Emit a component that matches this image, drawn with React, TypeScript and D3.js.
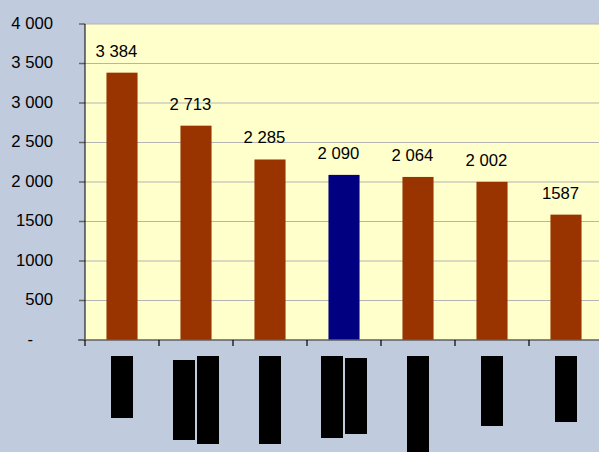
import React, { useEffect, useRef } from "react";
import * as d3 from "d3";

// chart values
const categories = ["c1", "c2", "c3", "c4", "c5", "c6", "c7"];
const values = [3384, 2713, 2285, 2090, 2064, 2002, 1587];
const valueLabels = ["3 384", "2 713", "2 285", "2 090", "2 064", "2 002", "1587"];
const highlight = "c4";
const yTicks = [0, 500, 1000, 1500, 2000, 2500, 3000, 3500, 4000];
const yTickLabels = ["-", "500", "1000", "1500", "2 000", "2 500", "3 000", "3 500", "4 000"];
// category names are blacked out in the reference: one entry per text line, its length
const redactedLines = [[62], [84, 88], [88], [82, 78], [100], [70], [66]];
const redactedInset = [[0], [4, 0], [0], [0, 2], [0], [0], [0]];

const W = 599;
const H = 452;
const FONT = "'Liberation Sans', Arial, sans-serif";

export default function App() {
  const svgRef = useRef<SVGSVGElement>(null);

  useEffect(() => {
    const svg = d3.select(svgRef.current);
    svg.selectAll("*").remove();

    const left = 85;
    const top = 24;
    const bottom = 340;
    const right = 603;

    const x = d3
      .scaleBand()
      .domain(categories)
      .range([left, right])
      .paddingInner(0.58)
      .paddingOuter(0.29);
    const step = x.step();
    const y = d3.scaleLinear().domain([0, 4000]).range([bottom, top]);

    svg.append("rect").attr("width", W).attr("height", H).attr("fill", "#C0CBDD");
    svg
      .append("rect")
      .attr("x", left)
      .attr("y", top)
      .attr("width", right - left)
      .attr("height", bottom - top)
      .attr("fill", "#FFFFCC");

    // gridlines
    svg
      .selectAll(".grid")
      .data(yTicks.filter((t) => t > 0))
      .enter()
      .append("line")
      .attr("x1", left)
      .attr("x2", right)
      .attr("y1", (d) => y(d))
      .attr("y2", (d) => y(d))
      .attr("stroke", "#B4B4B4")
      .attr("stroke-width", 1.2);

    // y ticks + labels
    svg
      .selectAll(".ytick")
      .data(yTicks)
      .enter()
      .append("line")
      .attr("x1", left - 6)
      .attr("x2", left)
      .attr("y1", (d) => y(d))
      .attr("y2", (d) => y(d))
      .attr("stroke", "#666")
      .attr("stroke-width", 1.5);

    svg
      .selectAll(".ylabel")
      .data(yTicks)
      .enter()
      .append("text")
      .attr("x", 53)
      .attr("dx", (d) => (d === 0 ? -20 : 0))
      .attr("y", (d) => y(d) + 4.5)
      .attr("text-anchor", "end")
      .attr("font-family", FONT)
      .attr("font-size", 16.7)
      .attr("fill", "#000")
      .text((d, i) => yTickLabels[i]);

    // bars
    svg
      .selectAll(".bar")
      .data(values)
      .enter()
      .append("rect")
      .attr("x", (d, i) => x(categories[i])!)
      .attr("y", (d) => y(d))
      .attr("width", x.bandwidth())
      .attr("height", (d) => y(0) - y(d))
      .attr("fill", (d, i) => (categories[i] === highlight ? "#000080" : "#993300"));

    // value labels
    svg
      .selectAll(".vlabel")
      .data(values)
      .enter()
      .append("text")
      .attr("x", (d, i) => x(categories[i])! + x.bandwidth() / 2 - 5.5)
      .attr("y", (d) => y(d) - 16)
      .attr("text-anchor", "middle")
      .attr("font-family", FONT)
      .attr("font-size", 16.7)
      .attr("fill", "#000")
      .text((d, i) => valueLabels[i]);

    // axes
    svg
      .append("line")
      .attr("x1", left)
      .attr("x2", left)
      .attr("y1", top)
      .attr("y2", bottom)
      .attr("stroke", "#000")
      .attr("stroke-width", 1);
    svg
      .append("line")
      .attr("x1", left - 7)
      .attr("x2", W)
      .attr("y1", bottom)
      .attr("y2", bottom)
      .attr("stroke", "#5f5f5f")
      .attr("stroke-width", 1.6);
    svg
      .selectAll(".xtick")
      .data(categories)
      .enter()
      .append("line")
      .attr("x1", (d) => x(d)! - (step - x.bandwidth()) / 2)
      .attr("x2", (d) => x(d)! - (step - x.bandwidth()) / 2)
      .attr("y1", bottom)
      .attr("y2", bottom + 6)
      .attr("stroke", "#000")
      .attr("stroke-width", 1.2);

    // blacked-out category labels
    categories.forEach((c, i) => {
      const lines = redactedLines[i];
      const center = x(c)! + x.bandwidth() / 2;
      lines.forEach((len, j) => {
        const cx = center + (j - (lines.length - 1) / 2) * 24;
        svg
          .append("rect")
          .attr("x", cx - 11)
          .attr("y", bottom + 16 + redactedInset[i][j])
          .attr("width", 22)
          .attr("height", len - redactedInset[i][j])
          .attr("fill", "#000");
      });
    });
  }, []);

  return (
    <svg
      ref={svgRef}
      width={W}
      height={H}
      style={{ position: "absolute", left: 0, top: 0, display: "block" }}
    />
  );
}
